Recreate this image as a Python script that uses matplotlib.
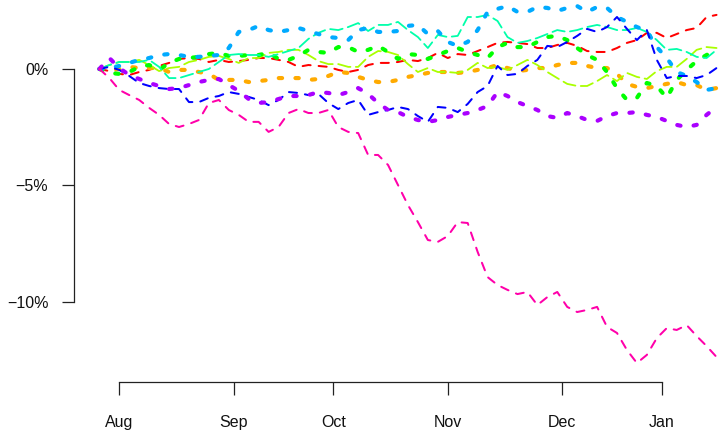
import numpy as np
import matplotlib
matplotlib.use("Agg")
import matplotlib.pyplot as plt

plt.rcParams['font.family'] = ['Liberation Sans', 'DejaVu Sans']

# trading day index (every second session) and month ticks
days = np.arange(0, 125, 2)
month_pos = [4, 27, 47, 70, 93, 113]
month_labels = ["Aug", "Sep", "Oct", "Nov", "Dec", "Jan"]
ytick_vals = [-10, -5, 0]
ytick_labels = ["\u221210%", "\u22125%", "0%"]

# cumulative returns in percent
red = [0, -0.09, -0.21, -0.26, -0.13, -0.04, 0.13, 0.26, 0.43, 0.47,
       0.43, 0.30, 0.39, 0.30, 0.34, 0.39, 0.47, 0.47, 0.39, 0.30,
       0.09, 0.17, 0.13, 0.09, -0.04, -0.13, -0.04, 0.17, 0.26, 0.26,
       0.30, 0.39, 0.34, 0.47, 0.69, 0.47, 0.64, 0.60, 0.77, 0.94,
       1.12, 1.16, 1.12, 1.07, 0.90, 0.90, 1.03, 1.12, 0.99, 0.77,
       0.73, 0.73, 0.90, 1.12, 1.24, 1.55, 1.55, 1.33, 1.50, 1.67,
       1.76, 2.23, 2.32]
orange = [0, -0.04, 0, 0.09, 0.04, 0.04, 0.04, -0.13, -0.04, -0.04,
          -0.13, -0.21, -0.47, -0.47, -0.47, -0.56, -0.52, -0.47, -0.39, -0.39,
          -0.39, -0.47, -0.43, -0.30, -0.13, -0.17, -0.34, -0.47, -0.56, -0.56,
          -0.47, -0.34, -0.26, -0.17, -0.13, -0.13, -0.17, -0.13, -0.04, 0.04,
          0.17, 0.04, -0.09, -0.04, 0.04, 0.04, 0.17, 0.26, 0.26, 0.13,
          0.04, 0.04, -0.21, -0.64, -0.77, -0.82, -0.73, -0.64, -0.56, -0.69,
          -0.69, -0.90, -0.82]
chartreuse = [0, 0.17, 0.30, 0.30, 0.39, 0.17, -0.09, 0.04, 0.09, 0.30,
              0.39, 0.52, 0.56, 0.43, 0.26, 0.47, 0.47, 0.69, 0.73, 0.82,
              0.82, 0.60, 0.34, 0.21, 0.21, 0.09, 0.09, 0.52, 0.77, 0.73,
              0.60, 0.21, -0.13, 0.04, -0.13, -0.13, -0.17, -0.04, 0.26, 0.04,
              0.09, -0.04, 0.17, 0.39, 0.17, -0.13, -0.39, -0.64, -0.73, -0.73,
              -0.52, -0.26, -0.52, -0.17, -0.34, -0.43, -0.09, 0.09, 0.09, 0.43,
              0.82, 0.94, 0.90]
green = [0, -0.17, -0.21, -0.13, 0.09, 0.17, -0.04, 0.26, 0.43, 0.47,
         0.52, 0.64, 0.69, 0.56, 0.56, 0.60, 0.60, 0.69, 0.43, 0.39,
         0.56, 0.82, 0.73, 0.69, 0.94, 0.94, 0.73, 0.82, 0.99, 0.73,
         0.43, 0.64, 0.60, 0.43, 0.60, 0.77, 0.90, 0.73, 0.60, 0.47,
         0.94, 1.12, 0.94, 0.94, 1.16, 1.37, 1.42, 1.24, 0.90, 0.60,
         0.39, -0.13, -0.82, -1.33, -1.24, -0.60, -0.73, -1.24, -0.47, -0.04,
         0.34, 0.60, 0.82]
springgreen = [0, 0.17, 0.30, 0.30, 0.30, 0.39, 0.09, -0.39, -0.39, -0.26,
               -0.13, 0, 0.30, 0.60, 0.64, 0.60, 0.60, 0.52, 0.64, 0.77,
               0.90, 1.29, 1.55, 1.72, 1.67, 1.80, 1.97, 1.63, 1.89, 1.89,
               2.02, 1.67, 1.37, 0.90, 1.46, 1.37, 1.42, 2.23, 2.23, 2.32,
               2.06, 1.37, 1.12, 1.20, 1.33, 1.50, 1.67, 1.59, 1.67, 1.80,
               1.89, 1.80, 1.67, 1.67, 1.76, 1.59, 1.24, 0.82, 0.86, 0.73,
               0.52, 0.47, 0.82]
skyblue = [0, 0.04, 0.13, 0.26, 0.39, 0.47, 0.60, 0.64, 0.60, 0.52,
           0.52, 0.56, 0.60, 0.90, 1.59, 1.67, 1.85, 1.67, 1.59, 1.67,
           1.76, 1.63, 1.50, 1.37, 1.33, 1.24, 1.67, 1.76, 1.59, 1.59,
           1.63, 1.85, 1.89, 1.50, 1.63, 1.16, 0.99, 1.16, 1.67, 2.45,
           2.58, 2.70, 2.45, 2.45, 2.66, 2.62, 2.49, 2.62, 2.70, 2.45,
           2.66, 2.62, 2.23, 2.02, 1.80, 1.63, 0.94, 0.47, -0.13, -0.30,
           -0.56, -0.90, -0.82]
blue = [0, 0.09, -0.04, -0.30, -0.60, -0.73, -0.82, -0.86, -0.86, -1.42,
        -1.42, -1.24, -1.16, -0.99, -1.07, -1.20, -1.33, -1.55, -1.33, -0.99,
        -1.03, -1.12, -1.07, -1.46, -1.72, -1.46, -1.33, -1.97, -1.85, -1.76,
        -1.63, -1.72, -2.02, -2.27, -1.63, -1.67, -1.85, -1.50, -0.99, -0.73,
        0.13, -0.26, -0.21, 0.13, 0.39, 0.99, 0.94, 1.16, 1.42, 1.72,
        1.59, 1.80, 2.23, 1.72, 1.24, 1.67, 0.39, -0.39, -0.30, -0.30,
        -0.39, -0.26, 0.04]
purple = [0, 0.47, 0.04, -0.26, -0.43, -0.60, -0.73, -0.86, -0.82, -0.69,
          -0.56, -0.47, -0.43, -0.69, -0.94, -1.29, -1.46, -1.42, -1.29, -1.16,
          -1.16, -1.12, -0.99, -1.03, -1.12, -0.99, -0.82, -1.07, -1.46, -1.76,
          -1.85, -2.06, -2.19, -2.27, -2.19, -2.06, -1.97, -1.89, -1.76, -1.59,
          -0.99, -1.16, -1.42, -1.59, -1.76, -2.02, -2.10, -1.89, -2.02, -2.19,
          -2.23, -2.02, -1.89, -1.89, -1.85, -1.97, -2.06, -2.23, -2.40, -2.49,
          -2.40, -1.97, -1.63]
pink = [0, -0.39, -0.90, -1.12, -1.33, -1.67, -1.97, -2.36, -2.49, -2.36,
        -2.19, -1.46, -1.33, -1.76, -1.97, -2.27, -2.27, -2.70, -2.49, -1.89,
        -1.72, -1.89, -1.89, -1.76, -2.49, -2.70, -2.75, -3.69, -3.69, -4.12,
        -4.98, -5.84, -6.57, -7.34, -7.42, -7.17, -6.57, -6.61, -7.85, -8.93,
        -9.27, -9.48, -9.66, -9.57, -10.13, -9.79, -9.57, -10.21, -10.43, -10.34,
        -10.21, -11.07, -11.33, -12.06, -12.62, -12.27, -11.55, -11.12, -11.20, -10.99,
        -11.46, -11.89, -12.36]

# (values, colour, linewidth, dash pattern)
series = [
    (red, "#FF0000", 1.45, (4, 4)),
    (orange, "#FFAA00", 3.0, (0.8, 3.2)),
    (chartreuse, "#AAFF00", 1.3, (7, 3)),
    (green, "#00FF00", 3.0, (0.8, 3.2)),
    (springgreen, "#00FFAA", 1.3, (7, 3)),
    (skyblue, "#00AAFF", 3.0, (0.8, 3.2)),
    (blue, "#0000FF", 1.45, (4, 4)),
    (purple, "#AA00FF", 3.0, (0.8, 3.2)),
    (pink, "#FF00AA", 1.45, (4, 4)),
]

fig = plt.figure(figsize=(7.23, 4.30), dpi=100)
ax = fig.add_axes([74 / 723, 48.3 / 430, 649 / 723, 381.7 / 430])

for vals, col, lw, dash in series:
    ax.plot(days, vals, color=col, lw=lw, dashes=dash,
            dash_capstyle="round", solid_capstyle="round")

ax.set_xlim(-5.1, 125.3)
ax.set_ylim(-13.42, 2.96)

# R style detached axes
for side in ["top", "right"]:
    ax.spines[side].set_visible(False)
ax.spines["left"].set_bounds(min(ytick_vals), max(ytick_vals))
ax.spines["bottom"].set_bounds(month_pos[0], month_pos[-1])
for side in ["left", "bottom"]:
    ax.spines[side].set_linewidth(0.9)
    ax.spines[side].set_color("#222222")

ax.set_xticks(month_pos)
ax.set_xticklabels(month_labels)
ax.set_yticks(ytick_vals)
ax.set_yticklabels(ytick_labels)
ax.tick_params(axis="both", direction="out", length=9, width=0.9,
               color="#222222", labelsize=11.5, labelcolor="#111111")
ax.tick_params(axis="x", pad=15)
ax.tick_params(axis="y", pad=9.5)

fig.savefig("out.png", dpi=100)
